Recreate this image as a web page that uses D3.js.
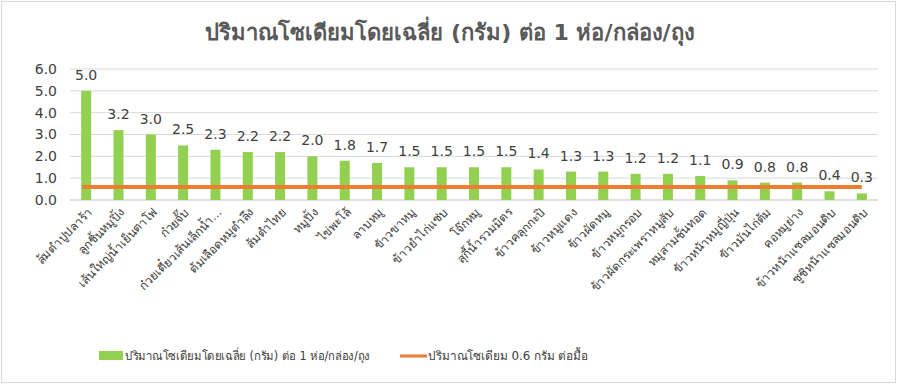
<!DOCTYPE html>
<html>
<head>
<meta charset="utf-8">
<script src="https://cdn.jsdelivr.net/npm/d3@7"></script>
<style>
body { margin: 0; background: #fff; }
text { font-family: Tahoma, "DejaVu Sans", "Noto Sans", sans-serif; }
</style>
</head>
<body>
<script>
var w = 900, h = 385;

// data
var foods = ["ส้มตำปูปลาร้า", "ลูกชิ้นหมูปิ้ง", "เส้นใหญ่น้ำเย็นตาโฟ", "ก๋วยจั๊บ",
    "ก๋วยเตี๋ยวเส้นเล็กน้ำ...", "ต้มเลือดหมูตำลึง", "ส้มตำไทย", "หมูปิ้ง", "ไข่พะโล้",
    "ลาบหมู", "ข้าวขาหมู", "ข้าวยำไก่แซ่บ", "โจ๊กหมู", "สุกี้น้ำรวมมิตร", "ข้าวคลุกกะปิ",
    "ข้าวหมูแดง", "ข้าวผัดหมู", "ข้าวหมูกรอบ", "ข้าวผัดกระเพราหมูสับ", "หมูสามชั้นทอด",
    "ข้าวหน้าหมูญี่ปุ่น", "ข้าวมันไก่ต้ม", "คอหมูย่าง", "ข้าวหน้าแซลมอนดิบ", "ซูชิหน้าแซลมอนดิบ"];
var sodium = [5.0, 3.2, 3.0, 2.5, 2.3, 2.2, 2.2, 2.0, 1.8, 1.7, 1.5, 1.5, 1.5, 1.5, 1.4,
    1.3, 1.3, 1.2, 1.2, 1.1, 0.9, 0.8, 0.8, 0.4, 0.3];
var limit = 0.6;
var yTicks = [0, 1, 2, 3, 4, 5, 6];
var title = "ปริมาณโซเดียมโดยเฉลี่ย (กรัม) ต่อ 1 ห่อ/กล่อง/ถุง";
var legendBar = "ปริมาณโซเดียมโดยเฉลี่ย (กรัม) ต่อ 1 ห่อ/กล่อง/ถุง";
var legendLine = "ปริมาณโซเดียม 0.6 กรัม ต่อมื้อ";

var svg = d3.select("body").append("svg")
    .attr("width", w).attr("height", h);

svg.append("rect")
    .attr("x", 1.5).attr("y", 1.5)
    .attr("width", w - 6).attr("height", h - 4)
    .attr("fill", "#fff").attr("stroke", "#d9d9d9");

var plotL = 70, plotR = 878, plotT = 69, plotB = 200;

var x = d3.scaleBand().domain(foods).range([plotL, plotR]);
var y = d3.scaleLinear().domain([0, 6]).range([plotB, plotT]);
var cx = function(f) { return x(f) + x.bandwidth() / 2; };

// grid
svg.append("g").selectAll("line")
    .data(yTicks)
    .enter().append("line")
    .attr("x1", plotL).attr("x2", plotR)
    .attr("y1", function(d) { return y(d); })
    .attr("y2", function(d) { return y(d); })
    .attr("stroke", function(d) { return d == 0 ? "#bfbfbf" : "#d9d9d9"; })
    .attr("stroke-width", 1);

// y labels
var yAxis = svg.append("g")
    .attr("transform", "translate(" + (plotL - 10) + ",0)")
    .call(d3.axisLeft(y).tickValues(yTicks).tickFormat(d3.format(".1f")).tickSize(0));
yAxis.select(".domain").remove();
yAxis.selectAll("text")
    .attr("font-size", 14).attr("fill", "#404040")
    .attr("font-family", "Tahoma, 'DejaVu Sans', sans-serif");

// bars
var bw = 10;
svg.append("g").selectAll("rect")
    .data(sodium)
    .enter().append("rect")
    .attr("x", function(d, i) { return cx(foods[i]) - bw / 2; })
    .attr("y", function(d) { return y(d); })
    .attr("width", bw)
    .attr("height", function(d) { return plotB - y(d); })
    .attr("fill", "#92d050");

// limit line
svg.append("line")
    .attr("x1", cx(foods[0]) - 4).attr("x2", cx(foods[foods.length - 1]))
    .attr("y1", y(limit)).attr("y2", y(limit))
    .attr("stroke", "#ed7d31").attr("stroke-width", 4);

// value labels
svg.append("g").selectAll("text")
    .data(sodium)
    .enter().append("text")
    .attr("x", function(d, i) { return cx(foods[i]); })
    .attr("y", function(d) { return y(d) - 11; })
    .attr("text-anchor", "middle")
    .attr("font-size", 14)
    .attr("fill", "#404040")
    .text(function(d) { return d.toFixed(1); });

// category labels
svg.append("g").selectAll("text")
    .data(foods)
    .enter().append("text")
    .attr("transform", function(d) {
        return "translate(" + (cx(d) + 4) + "," + (plotB + 10) + ") rotate(-45)";
    })
    .attr("text-anchor", "end")
    .attr("dy", "0.35em")
    .attr("font-size", 12)
    .attr("fill", "#404040")
    .text(function(d) { return d; });

// title
svg.append("text")
    .attr("x", 450).attr("y", 40)
    .attr("text-anchor", "middle")
    .attr("font-size", 22)
    .attr("font-weight", "bold")
    .attr("fill", "#595959")
    .text(title);

// legend
var lg = svg.append("g");
lg.append("rect")
    .attr("x", 99).attr("y", 351).attr("width", 24).attr("height", 9)
    .attr("fill", "#92d050");
lg.append("text")
    .attr("x", 125).attr("y", 356).attr("dy", "0.35em")
    .attr("font-size", 12).attr("fill", "#404040")
    .attr("textLength", 245).attr("lengthAdjust", "spacingAndGlyphs")
    .text(legendBar);
lg.append("line")
    .attr("x1", 400).attr("x2", 427).attr("y1", 356).attr("y2", 356)
    .attr("stroke", "#ed7d31").attr("stroke-width", 3);
lg.append("text")
    .attr("x", 428).attr("y", 356).attr("dy", "0.35em")
    .attr("font-size", 12).attr("fill", "#404040")
    .attr("textLength", 160).attr("lengthAdjust", "spacingAndGlyphs")
    .text(legendLine);
</script>
</body>
</html>
